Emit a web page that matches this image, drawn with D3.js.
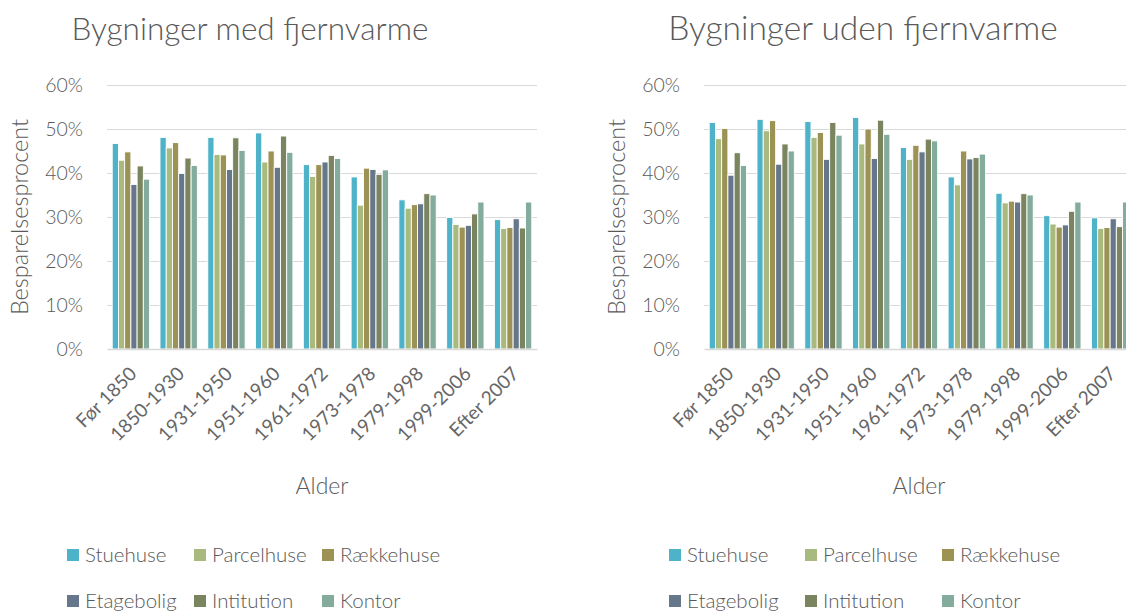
<!DOCTYPE html>
<html lang="da">
<head>
    <meta charset="UTF-8">
    <title>Besparelsesprocent</title>
    <script src="https://d3js.org/d3.v7.min.js"></script>
    <style>
        body {
            margin: 0;
            padding: 0;
            background-color: #ffffff;
            font-family: Lato, "Open Sans", sans-serif;
            overflow: hidden;
        }

        text {
            fill: #595959;
            font-weight: 300;
        }

        .xlabel {
            font-weight: 400;
            fill: #666666;
        }

        .grid line {
            stroke: #d9d9d9;
            stroke-width: 1;
        }
    </style>
</head>
<body>
    <svg id="chart"></svg>

    <script>
        const width = 1126;
        const height = 613;

        const categories = ["Før 1850", "1850-1930", "1931-1950", "1951-1960", "1961-1972",
                            "1973-1978", "1979-1998", "1999-2006", "Efter 2007"];
        const seriesNames = ["Stuehuse", "Parcelhuse", "Rækkehuse", "Etagebolig", "Intitution", "Kontor"];
        const seriesColors = ["#4eb3c8", "#a9ba7f", "#9c9253", "#66778b", "#7a845e", "#84ac9c"];
        const yTicks = [0, 10, 20, 30, 40, 50, 60];

        // Bygninger med fjernvarme (%)
        const medStuehuse   = [46.7, 48.1, 48.1, 49.1, 41.9, 39.1, 33.9, 29.9, 29.4];
        const medParcelhuse = [42.9, 45.7, 44.2, 42.5, 39.2, 32.7, 32.0, 28.3, 27.4];
        const medRaekkehuse = [44.8, 46.9, 44.1, 45.0, 41.9, 41.1, 32.8, 27.7, 27.6];
        const medEtagebolig = [37.4, 39.9, 40.8, 41.3, 42.5, 40.8, 33.0, 28.1, 29.6];
        const medIntitution = [41.6, 43.4, 48.0, 48.4, 44.0, 39.7, 35.3, 30.7, 27.5];
        const medKontor     = [38.6, 41.7, 45.1, 44.7, 43.3, 40.7, 35.0, 33.4, 33.4];

        // Bygninger uden fjernvarme (%)
        const udenStuehuse   = [51.5, 52.2, 51.7, 52.6, 45.8, 39.1, 35.4, 30.3, 29.8];
        const udenParcelhuse = [47.8, 49.6, 48.1, 46.6, 43.1, 37.3, 33.2, 28.4, 27.4];
        const udenRaekkehuse = [50.1, 51.9, 49.2, 50.0, 46.3, 45.0, 33.6, 27.7, 27.6];
        const udenEtagebolig = [39.5, 42.0, 43.1, 43.3, 44.8, 43.2, 33.4, 28.2, 29.6];
        const udenIntitution = [44.6, 46.6, 51.5, 52.0, 47.7, 43.5, 35.3, 31.3, 27.8];
        const udenKontor     = [41.7, 45.0, 48.6, 48.8, 47.3, 44.3, 35.0, 33.4, 33.4];

        const medData = [medStuehuse, medParcelhuse, medRaekkehuse, medEtagebolig, medIntitution, medKontor];
        const udenData = [udenStuehuse, udenParcelhuse, udenRaekkehuse, udenEtagebolig, udenIntitution, udenKontor];

        const svg = d3.select("#chart")
            .attr("width", width)
            .attr("height", height);

        const plotTop = 85;
        const plotBottom = 349;
        const plotWidth = 430;

        const yScale = d3.scaleLinear()
            .domain([0, 60])
            .range([plotBottom, plotTop]);

        function drawChart(left, title, titleX, titleSize, seriesData, legendX) {
            const g = svg.append("g");

            const x0 = d3.scaleBand()
                .domain(categories)
                .range([left, left + plotWidth])
                .padding(0);

            const x1 = d3.scaleBand()
                .domain(seriesNames)
                .range([0, x0.bandwidth()])
                .paddingInner(0)
                .paddingOuter(0.84);

            const color = d3.scaleOrdinal().domain(seriesNames).range(seriesColors);

            // gridlines
            g.append("g")
                .attr("class", "grid")
                .attr("transform", `translate(${left},0)`)
                .call(d3.axisLeft(yScale).tickValues(yTicks.slice(1)).tickSize(-plotWidth).tickFormat(""))
                .call(s => s.select(".domain").remove());

            // y tick labels
            g.append("g")
                .attr("transform", `translate(${left},0)`)
                .call(d3.axisLeft(yScale).tickValues(yTicks).tickSize(0).tickPadding(24).tickFormat(d => d + "%"))
                .call(s => s.select(".domain").remove())
                .selectAll("text")
                .attr("font-family", "Lato, sans-serif")
                .attr("font-size", "19.5px")
                .style("fill", "#595959");

            // bars
            const rows = categories.map((c, i) => ({
                cat: c,
                values: seriesNames.map((s, j) => ({ series: s, value: seriesData[j][i] }))
            }));

            g.append("g")
                .selectAll("g")
                .data(rows)
                .join("g")
                .attr("transform", d => `translate(${x0(d.cat)},0)`)
                .selectAll("rect")
                .data(d => d.values)
                .join("rect")
                .attr("x", d => x1(d.series))
                .attr("y", d => yScale(d.value))
                .attr("width", x1.bandwidth())
                .attr("height", d => plotBottom - yScale(d.value))
                .attr("fill", d => color(d.series))
                .attr("stroke", "#ffffff")
                .attr("stroke-width", 0.9);

            // x axis
            const xAxis = g.append("g")
                .attr("transform", `translate(0,${plotBottom})`)
                .call(d3.axisBottom(x0).tickSize(0).tickFormat(""));
            xAxis.select(".domain")
                .attr("stroke", "#d9d9d9")
                .attr("stroke-width", 1.5);

            g.append("g")
                .selectAll("text")
                .data(categories)
                .join("text")
                .attr("class", "xlabel")
                .attr("transform", d => `translate(${x0(d) + x0.bandwidth() / 2 + 7},${plotBottom + 26}) rotate(-45)`)
                .attr("text-anchor", "end")
                .attr("font-size", "19px")
                .text(d => d);

            // title
            g.append("text")
                .attr("x", titleX)
                .attr("y", 40)
                .attr("text-anchor", "middle")
                .attr("font-size", titleSize + "px")
                .text(title);

            // axis titles
            g.append("text")
                .attr("x", left + plotWidth / 2)
                .attr("y", 494)
                .attr("text-anchor", "middle")
                .attr("font-size", "23px")
                .text("Alder");

            g.append("text")
                .attr("transform", `translate(${left - 79},${(plotTop + plotBottom) / 2}) rotate(-90)`)
                .attr("text-anchor", "middle")
                .attr("font-size", "23.5px")
                .text("Besparelsesprocent");

            // legend
            const legend = g.append("g")
                .selectAll("g")
                .data(seriesNames)
                .join("g")
                .attr("transform", (d, i) => `translate(${legendX[i % 3]},${i < 3 ? 555 : 601})`);

            legend.append("rect")
                .attr("x", 0)
                .attr("y", -6)
                .attr("width", 12)
                .attr("height", 12)
                .attr("fill", d => color(d));

            legend.append("text")
                .attr("x", 18)
                .attr("y", 0)
                .attr("dy", "0.35em")
                .attr("font-size", "20.5px")
                .text(d => d);
        }

        drawChart(107, "Bygninger med fjernvarme", 250, 31.5, medData, [67, 194, 322]);
        drawChart(704, "Bygninger uden fjernvarme", 863, 33.5, udenData, [669, 805, 942]);
    </script>
</body>
</html>
